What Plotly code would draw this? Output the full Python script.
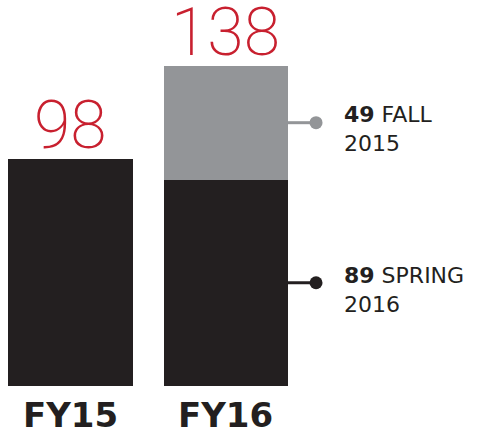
import plotly.graph_objects as go

categories = ["FY15", "FY16"]
spring = [98, 89]
fall = [0, 49]
totals = [98, 138]
seg_labels = ["FALL<br>2015", "SPRING<br>2016"]

BLACK = "#231f20"
GRAY = "#939598"
RED = "#c8202f"

xs = [0, 1]
fig = go.Figure()
fig.add_trace(go.Bar(x=xs, y=spring, marker_color=BLACK, width=0.8, marker_line_width=0, hoverinfo="skip"))
fig.add_trace(go.Bar(x=xs, y=fall, marker_color=GRAY, width=0.8, marker_line_width=0, hoverinfo="skip"))

fall_mid = spring[1] + fall[1] / 2
spring_mid = spring[1] / 2
for ymid, col in [(fall_mid, GRAY), (spring_mid, BLACK)]:
    fig.add_trace(go.Scatter(x=[1.4, 1.584], y=[ymid, ymid], mode="lines",
                             line=dict(color=col, width=3), hoverinfo="skip"))
    fig.add_trace(go.Scatter(x=[1.584], y=[ymid], mode="markers",
                             marker=dict(color=col, size=13), hoverinfo="skip"))

anns = []
for x, t in zip(xs, totals):
    anns.append(dict(x=x, y=t, text=str(t), showarrow=False, xanchor="center", yanchor="bottom",
                     yshift=-7, font=dict(family="Roboto", size=66, color=RED, weight=200)))
for x, c in zip(xs, categories):
    anns.append(dict(x=x, y=0, text="<b>" + c + "</b>", showarrow=False, xanchor="center", yanchor="top",
                     yshift=-7, font=dict(family="DejaVu Sans", size=34, color=BLACK)))
anns.append(dict(x=1.752, y=fall_mid, text="<b>%d</b> %s" % (fall[1], seg_labels[0]), showarrow=False,
                 xanchor="left", yanchor="middle", align="left", yshift=-6,
                 font=dict(family="DejaVu Sans", size=22, color=BLACK)))
anns.append(dict(x=1.752, y=spring_mid, text="<b>%d</b> %s" % (spring[1], seg_labels[1]), showarrow=False,
                 xanchor="left", yanchor="middle", align="left", yshift=-7,
                 font=dict(family="DejaVu Sans", size=22, color=BLACK)))

fig.update_layout(
    barmode="stack",
    width=485, height=437,
    margin=dict(l=0, r=0, t=0, b=0),
    paper_bgcolor="white", plot_bgcolor="white",
    showlegend=False,
    annotations=anns,
    xaxis=dict(range=[-0.4548, 2.674], visible=False, fixedrange=True),
    yaxis=dict(range=[-22.0, 166.4], visible=False, fixedrange=True),
)
fig.write_html("out.html", config={"displayModeBar": False})

with open("out.html", encoding="utf-8") as f:
    html = f.read()
html = html.replace("<head>", "<head><style>html,body{margin:0;padding:0;overflow:hidden;}</style>", 1)
with open("out.html", "w", encoding="utf-8") as f:
    f.write(html)
